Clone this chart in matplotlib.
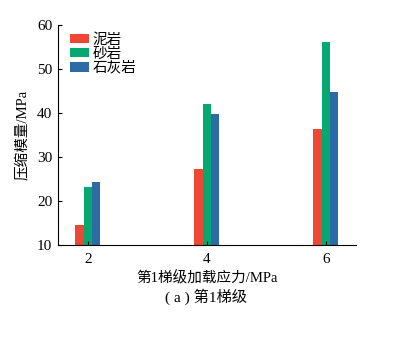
import numpy as np
import matplotlib
matplotlib.use("Agg")
import matplotlib.pyplot as plt

plt.rcParams['font.family'] = ['Liberation Serif', 'Noto Sans CJK SC']

# stress level (MPa) and compression modulus for each rock type
stress = [2, 4, 6]
mudstone = [14.5, 27.3, 36.3]
sandstone = [23.2, 42.0, 56.1]
limestone = [24.3, 39.7, 44.8]
names = ["泥岩", "砂岩", "石灰岩"]
colors = ["#EE4834", "#05A870", "#2C6BA5"]

fig = plt.figure(figsize=(4.2, 3.38), dpi=100)
ax = fig.add_axes([0.138, 0.275, 0.709, 0.651])

w = 0.14
x = np.array(stress)
for i, (vals, name, c) in enumerate(zip([mudstone, sandstone, limestone], names, colors)):
    ax.bar(x + (i - 1) * w, np.array(vals) - 10, w, bottom=10, color=c, label=name, linewidth=0)

ax.set_xlim(1.5, 6.5)
ax.set_ylim(10, 60)
ax.set_xticks(stress)
ax.set_yticks([10, 20, 30, 40, 50, 60])
ax.spines['top'].set_visible(False)
ax.spines['right'].set_visible(False)
ax.tick_params(direction='in', length=3, labelsize=11, width=0.8)
ax.tick_params(axis='x', pad=6)
ax.tick_params(axis='y', pad=4)

ax.set_xlabel("第1梯级加载应力/MPa", fontsize=10.5, labelpad=3)
ax.set_ylabel("压缩模量/MPa", fontsize=10.5, labelpad=5)
fig.text(0.49, 0.122, "( a ) 第1梯级", ha='center', va='center', fontsize=11)

ax.legend(loc='upper left', bbox_to_anchor=(0.005, 1.01), frameon=False, fontsize=10.5,
          handlelength=1.3, handleheight=0.65, handletextpad=0.25, labelspacing=0.05,
          borderaxespad=0.3)

fig.savefig("out.png", dpi=100)
